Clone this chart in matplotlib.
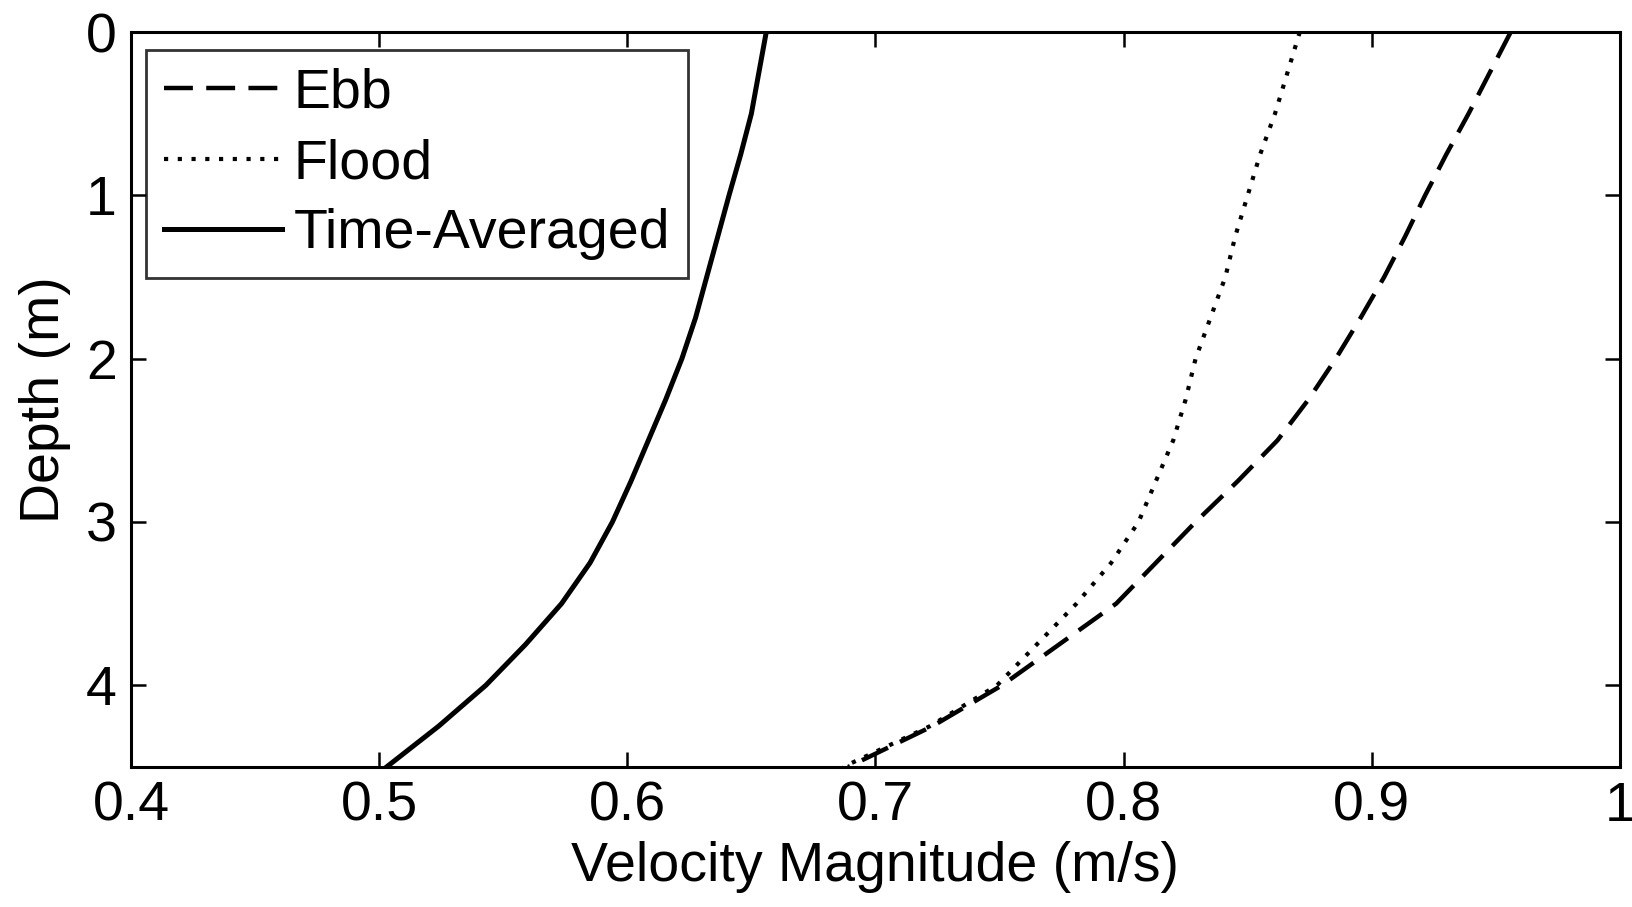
import matplotlib
matplotlib.use("Agg")
import matplotlib.pyplot as plt

# ---- data ----
depth = [0.0, 0.25, 0.5, 0.75, 1.0, 1.25, 1.5, 1.75, 2.0, 2.25,
         2.5, 2.75, 3.0, 3.25, 3.5, 3.75, 4.0, 4.25, 4.5]
ebb = [0.956, 0.9475, 0.939, 0.930, 0.9215, 0.9135, 0.905, 0.8955, 0.8855, 0.8745,
       0.862, 0.846, 0.829, 0.813, 0.797, 0.774, 0.751, 0.723, 0.689]
flood = [0.871, 0.866, 0.861, 0.855, 0.850, 0.845, 0.841, 0.835, 0.829, 0.825,
         0.820, 0.813, 0.806, 0.795, 0.781, 0.765, 0.749, 0.722, 0.687]
time_avg = [0.656, 0.653, 0.650, 0.6457, 0.641, 0.6365, 0.632, 0.6275, 0.622, 0.6155,
            0.6085, 0.6015, 0.594, 0.585, 0.5735, 0.559, 0.543, 0.524, 0.503]

labels = ["Ebb", "Flood", "Time-Averaged"]
x_ticks = [0.4, 0.5, 0.6, 0.7, 0.8, 0.9, 1.0]
x_ticklabels = ["0.4", "0.5", "0.6", "0.7", "0.8", "0.9", "1"]
y_ticks = [0, 1, 2, 3, 4]
y_ticklabels = ["0", "1", "2", "3", "4"]

plt.rcParams['font.family'] = ['Liberation Sans', 'DejaVu Sans']

fig = plt.figure(figsize=(16.33, 9.07), dpi=100)
ax = fig.add_axes([0.0802, 0.1544, 0.9118, 0.8103])

ax.plot(ebb, depth, color='black', lw=3.2, linestyle=(0, (6.5, 3)), label=labels[0])
ax.plot(flood, depth, color='black', lw=3.0, linestyle=(0, (1, 2.3)), label=labels[1])
ax.plot(time_avg, depth, color='black', lw=3.6, linestyle='-', label=labels[2])

ax.set_xlim(0.4, 1.0)
ax.set_ylim(4.5, 0)
ax.set_xticks(x_ticks)
ax.set_xticklabels(x_ticklabels)
ax.set_yticks(y_ticks)
ax.set_yticklabels(y_ticklabels)

ax.tick_params(direction='in', length=11, width=1.8, top=True, right=True,
               labelsize=40, pad=10, colors='black')
for s in ax.spines.values():
    s.set_linewidth(2.2)
    s.set_color('black')

ax.set_xlabel("Velocity Magnitude (m/s)", fontsize=40, labelpad=6)
ax.set_ylabel("Depth (m)", fontsize=40, labelpad=11)

leg = ax.legend(loc='upper left', bbox_to_anchor=(0.0101, 0.9755), borderaxespad=0,
                fontsize=40, frameon=True, fancybox=False, shadow=False,
                handlelength=2.12, handletextpad=0.22, labelspacing=0.33,
                borderpad=0.32)
leg.get_frame().set_edgecolor('black')
leg.get_frame().set_linewidth(2.0)

fig.savefig("out.png", dpi=100)
